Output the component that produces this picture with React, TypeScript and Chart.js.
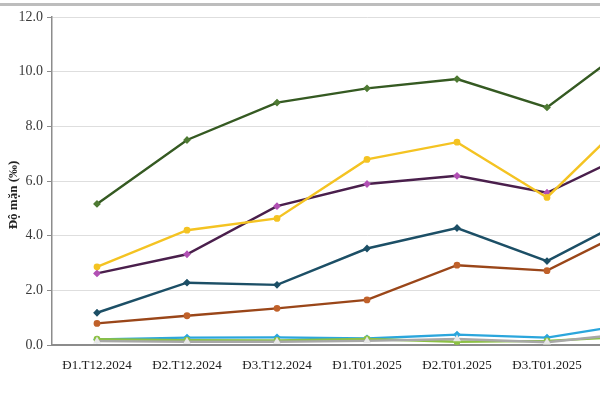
import React, { useEffect, useRef } from "react";
import { Chart, registerables } from "chart.js";

Chart.register(...registerables);

const categories = [
  "Đ1.T12.2024",
  "Đ2.T12.2024",
  "Đ3.T12.2024",
  "Đ1.T01.2025",
  "Đ2.T01.2025",
  "Đ3.T01.2025",
  "Đ1.T02.2025",
];

const seriesGreen = [5.16, 7.5, 8.87, 9.39, 9.73, 8.69, 11.15];
const seriesYellow = [2.86, 4.2, 4.63, 6.79, 7.42, 5.4, 8.6];
const seriesPurple = [2.62, 3.32, 5.08, 5.89, 6.19, 5.57, 7.15];
const seriesTeal = [1.18, 2.28, 2.2, 3.53, 4.28, 3.07, 4.78];
const seriesOrange = [0.79, 1.07, 1.34, 1.65, 2.92, 2.72, 4.37];
const seriesBlue = [0.2, 0.27, 0.28, 0.24, 0.38, 0.27, 0.8];
const seriesGray = [0.14, 0.12, 0.12, 0.15, 0.22, 0.1, 0.45];
const seriesLightGreen = [0.21, 0.18, 0.17, 0.22, 0.12, 0.15, 0.32];

const yTicks = [0, 2, 4, 6, 8, 10, 12];
const yTitle = "Độ mặn (‰)";

const titlePlugin = {
  id: "yTitleDraw",
  afterDraw(chart: any) {
    const ctx = chart.ctx;
    ctx.save();
    ctx.translate(14, 195);
    ctx.rotate(-Math.PI / 2);
    ctx.font = "bold 13px 'Liberation Serif', serif";
    ctx.fillStyle = "#222";
    ctx.textAlign = "center";
    ctx.textBaseline = "middle";
    ctx.fillText(yTitle, 0, 0);
    ctx.restore();
  },
};

export default function App() {
  const ref = useRef<HTMLCanvasElement | null>(null);

  useEffect(() => {
    if (!ref.current) return;
    const mk = (label: string, data: number[], color: string, pColor: string, style: any) => ({
      label,
      data,
      borderColor: color,
      backgroundColor: pColor,
      pointBorderColor: pColor,
      pointBackgroundColor: pColor,
      pointStyle: style,
      pointRadius: 2.2,
      borderWidth: 2.4,
      tension: 0,
    });
    const chart = new Chart(ref.current, {
      type: "line",
      data: {
        labels: categories,
        datasets: [
          mk("S1", seriesGreen, "#355a22", "#4e7a33", "rectRot"),
          mk("S2", seriesYellow, "#f4c322", "#f4c322", "circle"),
          mk("S3", seriesPurple, "#4a1f4c", "#b150b4", "rectRot"),
          mk("S4", seriesTeal, "#1c4f66", "#1c4f66", "rectRot"),
          mk("S5", seriesOrange, "#9a4619", "#c0612a", "circle"),
          mk("S6", seriesGray, "#a8a8a8", "#e8e8e8", "triangle"),
          mk("S7", seriesLightGreen, "#8cc044", "#8cc044", "circle"),
          mk("S8", seriesBlue, "#2ba6dc", "#2ba6dc", "rectRot"),
        ],
      },
      plugins: [titlePlugin],
      options: {
        responsive: false,
        animation: false,
        layout: { padding: { top: 17, right: 38, left: 0, bottom: 0 } },
        plugins: { legend: { display: false }, tooltip: { enabled: false } },
        scales: {
          x: {
            offset: true,
            grid: { display: false, offset: true },
            border: { display: true, color: "#8c8c8c", width: 2 },
            ticks: {
              color: "#222",
              padding: 5,
              maxRotation: 0,
              autoSkip: false,
              font: { family: "'Liberation Serif', serif", size: 13 },
            },
            afterFit: (s: any) => {
              s.height = 55;
            },
          },
          y: {
            min: 0,
            max: 12,
            afterBuildTicks: (s: any) => {
              s.ticks = yTicks.map((v) => ({ value: v }));
            },
            grid: {
              color: "#dedede",
              lineWidth: 1,
              tickLength: 5,
              tickColor: "#8c8c8c",
            },
            border: { display: true, color: "#8c8c8c", width: 1.5 },
            ticks: {
              color: "#3a3a3a",
              padding: 4,
              font: { family: "'Liberation Serif', serif", size: 14 },
              callback: (v: any) => Number(v).toFixed(1),
            },
            afterFit: (s: any) => {
              s.width = 52;
            },
          },
        },
      },
    });
    return () => chart.destroy();
  }, []);

  return (
    <div
      style={{
        position: "fixed",
        left: 0,
        top: 0,
        width: 600,
        height: 400,
        overflow: "hidden",
        background: "#fff",
      }}
    >
      <div
        style={{
          position: "absolute",
          left: 0,
          top: 3,
          width: 600,
          height: 3,
          background: "#bdbdbd",
        }}
      />
      <canvas ref={ref} width={720} height={400} style={{ position: "absolute", left: 0, top: 0 }} />
    </div>
  );
}
